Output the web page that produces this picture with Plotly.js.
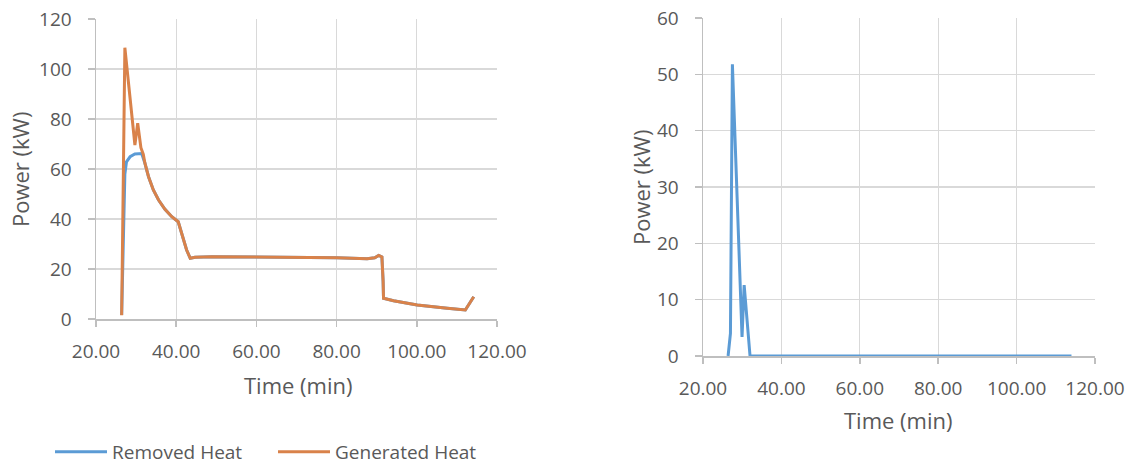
<!DOCTYPE html>
<html>
<head>
<meta charset="utf-8">
<script src="https://cdn.plot.ly/plotly-3.0.1.min.js"></script>
<style>html,body{margin:0;padding:0;background:#fff;overflow:hidden}#chart{width:1132px;height:490px}</style>
</head>
<body>
<div id="chart"></div>
<script>
// Left chart: removed heat (blue)
const removedTime = [26.4, 27.2, 27.6, 28.5, 29.7, 31.4, 32.2, 33.1, 34.3, 35.6, 37.2, 38.9, 40.5, 41.4, 42.6, 43.5, 44.7, 48.9, 60.0, 80.0, 87.6, 89.5, 90.5, 91.3, 91.6, 91.7, 94.2, 100.1, 107.6, 112.1, 114.2];
const removedHeat = [1.6, 58.0, 62.9, 64.9, 66.0, 66.2, 62.3, 56.9, 51.6, 47.6, 43.9, 40.9, 38.9, 34.3, 27.6, 24.3, 24.7, 24.9, 24.8, 24.5, 24.1, 24.5, 25.4, 24.8, 15.0, 8.3, 7.3, 5.6, 4.3, 3.6, 8.9];
// Left chart: generated heat (orange)
const generatedTime = [26.4, 27.2, 29.7, 30.4, 31.2, 31.8, 32.2, 33.1, 34.3, 35.6, 37.2, 38.9, 40.5, 41.4, 42.6, 43.5, 44.7, 48.9, 60.0, 80.0, 87.6, 89.5, 90.5, 91.3, 91.6, 91.7, 94.2, 100.1, 107.6, 112.1, 114.2];
const generatedHeat = [1.5, 108.5, 69.6, 78.3, 68.5, 65.8, 62.3, 56.9, 51.6, 47.6, 43.9, 40.9, 38.9, 34.3, 27.6, 24.3, 24.7, 24.9, 24.8, 24.5, 24.1, 24.5, 25.4, 24.8, 15.0, 8.3, 7.3, 5.6, 4.3, 3.6, 8.9];
// Right chart: excess power (blue)
const diffTime = [26.4, 27.0, 27.5, 29.96, 30.5, 32.0, 114.0];
const diffPower = [0, 4.0, 51.8, 3.4, 12.6, 0, 0];

const xTicks = [20, 40, 60, 80, 100, 120];
const xTickText = xTicks.map(v => v.toFixed(2));

const FONT = '"Open Sans", "Noto Sans", sans-serif';
const GRAY = '#595959';

function xAxis(domain, anchor) {
  return {
    domain: domain, anchor: anchor, range: [20, 120],
    tickvals: xTicks, ticktext: xTickText,
    showgrid: true, gridcolor: '#d9d9d9', gridwidth: 1.3,
    zeroline: false, showline: true, linecolor: '#bfbfbf', linewidth: 1.5,
    ticks: 'outside', ticklen: 6, tickcolor: '#bfbfbf', tickwidth: 1.5,
    ticklabelstandoff: 9,
    tickfont: {family: FONT, size: 19, color: GRAY}
  };
}
function yAxis(domain, anchor, max, step) {
  return {
    domain: domain, anchor: anchor, range: [0, max], dtick: step, tick0: 0,
    showgrid: true, gridcolor: '#d9d9d9', gridwidth: 1.3,
    zeroline: false, showline: true, linecolor: '#bfbfbf', linewidth: 1.5,
    ticks: 'outside', ticklen: 7, tickcolor: '#bfbfbf', tickwidth: 1.5,
    ticklabelstandoff: 12,
    tickfont: {family: FONT, size: 19, color: GRAY}
  };
}

const traces = [
  {x: removedTime, y: removedHeat, type: 'scatter', mode: 'lines', name: 'Removed Heat',
   line: {color: '#5B9BD5', width: 3}, xaxis: 'x', yaxis: 'y'},
  {x: generatedTime, y: generatedHeat, type: 'scatter', mode: 'lines', name: 'Generated Heat',
   line: {color: '#D9824A', width: 3}, xaxis: 'x', yaxis: 'y'},
  {x: diffTime, y: diffPower, type: 'scatter', mode: 'lines', name: 'Excess',
   line: {color: '#5B9BD5', width: 3}, xaxis: 'x2', yaxis: 'y2', showlegend: false}
];

// figure is drawn slightly taller than the 464px window so the legend never shrinks the plots
const W = 1132, H = 490;
const layout = {
  width: W, height: H,
  margin: {l: 0, r: 0, t: 0, b: 0},
  paper_bgcolor: '#ffffff', plot_bgcolor: '#ffffff',
  font: {family: FONT, color: GRAY},
  xaxis: xAxis([96 / W, 497 / W], 'y'),
  yaxis: yAxis([1 - 319 / H, 1 - 19 / H], 'x', 120, 20),
  xaxis2: xAxis([703 / W, 1095 / W], 'y2'),
  yaxis2: yAxis([1 - 356 / H, 1 - 18 / H], 'x2', 60, 10),
  showlegend: true,
  legend: {
    orientation: 'h',
    x: 50 / W, xanchor: 'left', y: 1 - 452 / H, yanchor: 'middle',
    font: {family: FONT, size: 19, color: GRAY}, traceorder: 'normal',
    itemwidth: 52, entrywidth: 156, entrywidthmode: 'pixels', bgcolor: 'rgba(0,0,0,0)'
  },
  annotations: [
    {text: 'Time (min)', xref: 'paper', yref: 'paper', x: 298 / W, y: 1 - 385 / H,
     showarrow: false, xanchor: 'center', yanchor: 'middle', font: {family: FONT, size: 22, color: GRAY}},
    {text: 'Power (kW)', xref: 'paper', yref: 'paper', x: 20 / W, y: 1 - 170 / H, textangle: -90,
     showarrow: false, xanchor: 'center', yanchor: 'middle', font: {family: FONT, size: 22, color: GRAY}},
    {text: 'Time (min)', xref: 'paper', yref: 'paper', x: 898 / W, y: 1 - 420 / H,
     showarrow: false, xanchor: 'center', yanchor: 'middle', font: {family: FONT, size: 22, color: GRAY}},
    {text: 'Power (kW)', xref: 'paper', yref: 'paper', x: 641 / W, y: 1 - 188 / H, textangle: -90,
     showarrow: false, xanchor: 'center', yanchor: 'middle', font: {family: FONT, size: 22, color: GRAY}}
  ]
};

Plotly.newPlot('chart', traces, layout, {staticPlot: true, displayModeBar: false});
</script>
</body>
</html>
